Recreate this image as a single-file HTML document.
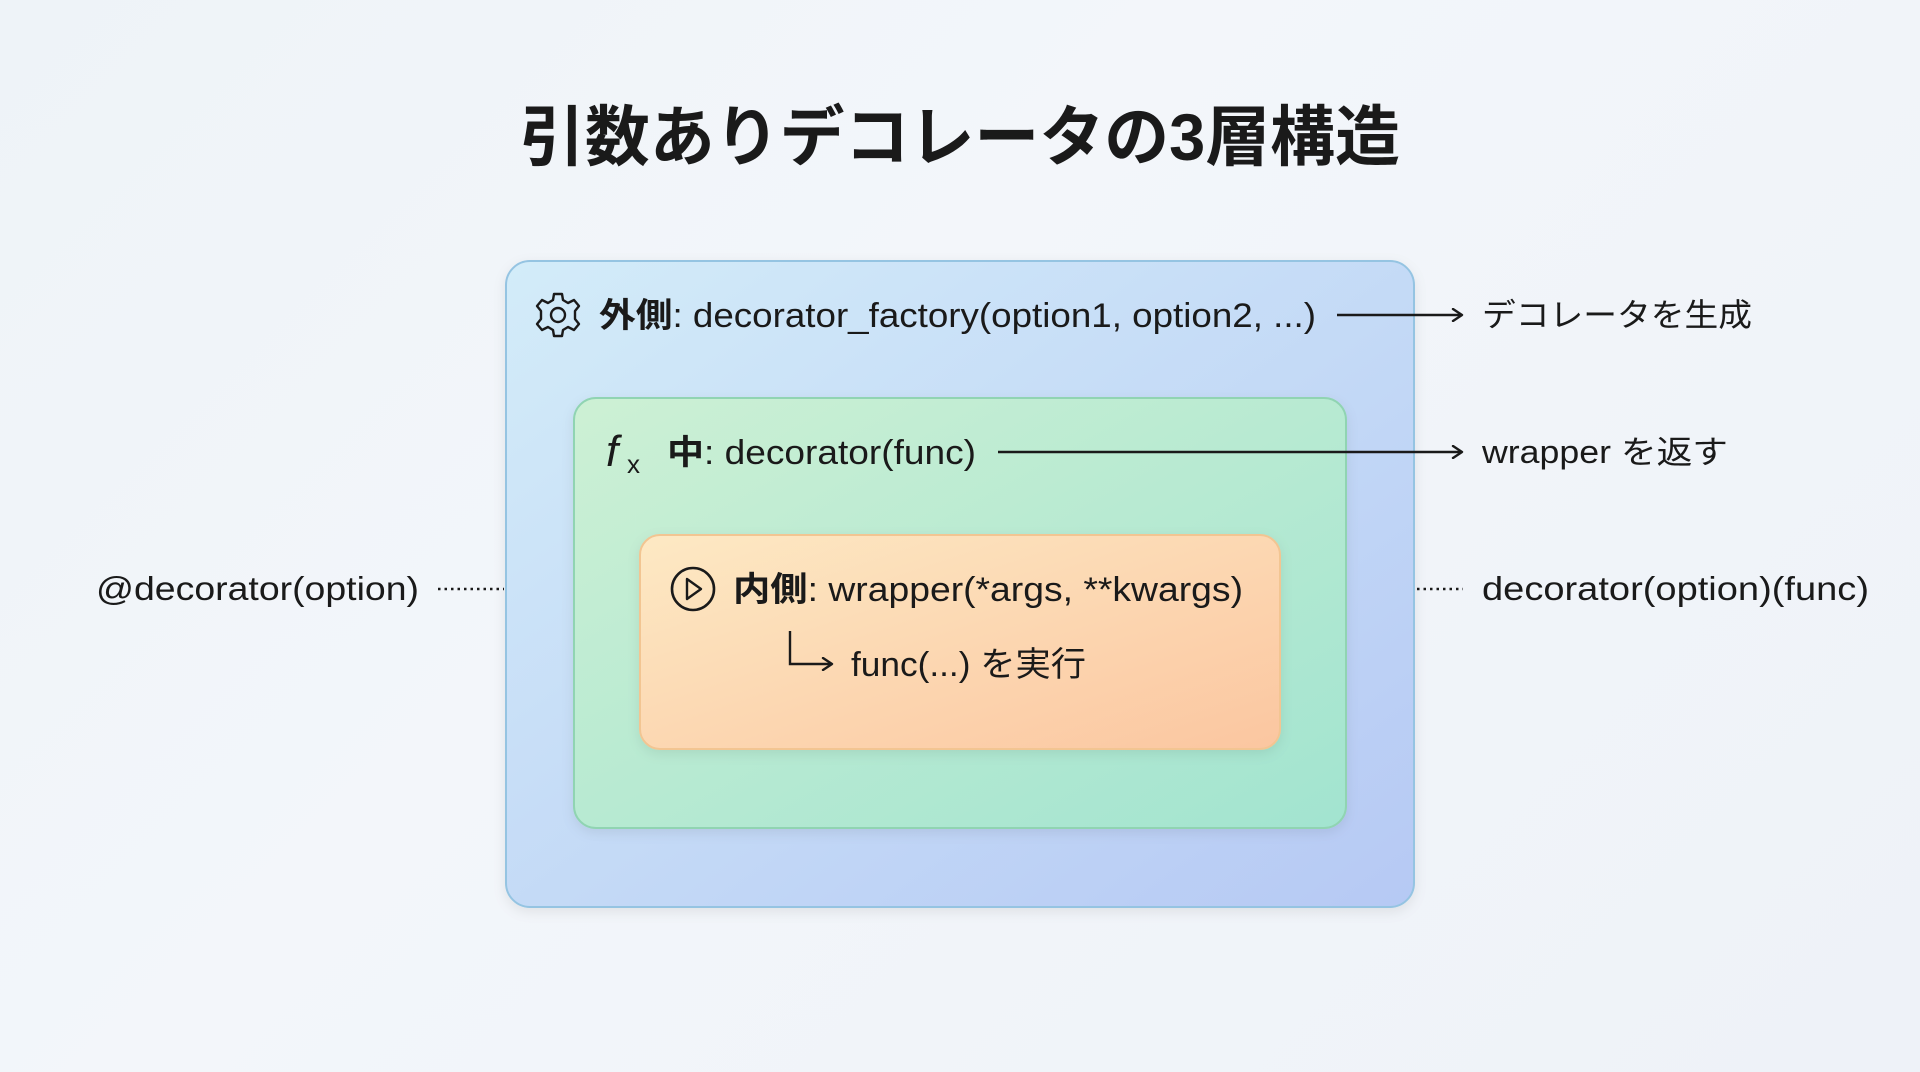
<!DOCTYPE html>
<html><head><meta charset="utf-8"><style>
html,body{margin:0;padding:0;width:1920px;height:1072px;overflow:hidden;}
body{background:linear-gradient(135deg,#eef3f8 0%,#f3f6fa 40%,#eef2f8 100%);}
svg{display:block}
text{font-family:"Liberation Sans","Noto Sans CJK JP",sans-serif;fill:#1a1a1a;}
</style></head><body>
<svg width="1920" height="1072" viewBox="0 0 1920 1072" xmlns="http://www.w3.org/2000/svg">
<defs>
<linearGradient id="gOut" x1="0" y1="0" x2="1" y2="1">
<stop offset="0" stop-color="#d3ecf9"/><stop offset="1" stop-color="#b6c9f4"/></linearGradient>
<linearGradient id="gMid" x1="0" y1="0" x2="1" y2="1">
<stop offset="0" stop-color="#cdf0d4"/><stop offset="1" stop-color="#a2e4d0"/></linearGradient>
<linearGradient id="gIn" x1="0" y1="0" x2="1" y2="1">
<stop offset="0" stop-color="#fde9c4"/><stop offset="1" stop-color="#fbc6a0"/></linearGradient>
<filter id="sh" x="-10%" y="-10%" width="120%" height="130%"><feDropShadow dx="0" dy="4" stdDeviation="6" flood-color="#000" flood-opacity="0.08"/></filter>
<marker id="ah" markerWidth="14" markerHeight="14" refX="12" refY="7" orient="auto" markerUnits="userSpaceOnUse">
<path d="M3,1 L12,7 L3,13" fill="none" stroke="#1a1a1a" stroke-width="2.4" stroke-linecap="round" stroke-linejoin="round"/></marker>
</defs>
<text x="960" y="160" text-anchor="middle" font-size="66" font-weight="bold" textLength="880" lengthAdjust="spacingAndGlyphs">引数ありデコレータの3層構造</text>

<rect x="506" y="261" width="908" height="646" rx="24" fill="url(#gOut)" stroke="#95c4e2" stroke-width="2" filter="url(#sh)"/>
<rect x="574" y="398" width="772" height="430" rx="22" fill="url(#gMid)" stroke="#90d4b2" stroke-width="2" filter="url(#sh)"/>
<rect x="640" y="535" width="640" height="214" rx="20" fill="url(#gIn)" stroke="#f2c592" stroke-width="2" filter="url(#sh)"/>

<!-- gear -->
<g transform="translate(558,315)" fill="none" stroke="#1a1a1a" stroke-width="2.4" stroke-linejoin="round">
<path d="M-4,-21 L4,-21 L5,-15 L10,-12 L16,-15 L21,-9 L17,-4 L17,4 L21,9 L16,15 L10,12 L5,15 L4,21 L-4,21 L-5,15 L-10,12 L-16,15 L-21,9 L-17,4 L-17,-4 L-21,-9 L-16,-15 L-10,-12 L-5,-15 Z"/>
<circle r="7"/></g>
<text x="599" y="327" font-size="34" textLength="717" lengthAdjust="spacingAndGlyphs"><tspan font-weight="bold">外側</tspan>: decorator_factory(option1, option2, ...)</text>
<line x1="1337" y1="315" x2="1462" y2="315" stroke="#1a1a1a" stroke-width="2.4" marker-end="url(#ah)"/>
<text x="1482" y="326" font-size="32" textLength="270" lengthAdjust="spacingAndGlyphs">デコレータを生成</text>

<!-- fx -->
<text x="606" y="466" font-size="44" font-style="italic" font-family="Liberation Serif">f</text>
<text x="627" y="473" font-size="26">x</text>
<text x="667" y="464" font-size="34" textLength="309" lengthAdjust="spacingAndGlyphs"><tspan font-weight="bold">中</tspan>: decorator(func)</text>
<line x1="998" y1="452" x2="1462" y2="452" stroke="#1a1a1a" stroke-width="2.4" marker-end="url(#ah)"/>
<text x="1482" y="463" font-size="32" textLength="246" lengthAdjust="spacingAndGlyphs">wrapper を返す</text>

<!-- play -->
<circle cx="693" cy="589" r="21" fill="none" stroke="#1a1a1a" stroke-width="2.6"/>
<path d="M687,579 L701,589 L687,599 Z" fill="none" stroke="#1a1a1a" stroke-width="2.4" stroke-linejoin="round"/>
<text x="733" y="601" font-size="34" textLength="510" lengthAdjust="spacingAndGlyphs"><tspan font-weight="bold">内側</tspan>: wrapper(*args, **kwargs)</text>
<path d="M790,631 L790,664 L832,664" fill="none" stroke="#1a1a1a" stroke-width="2.4" marker-end="url(#ah)"/>
<text x="851" y="676" font-size="34" textLength="235" lengthAdjust="spacingAndGlyphs">func(...) を実行</text>

<text x="96" y="600" font-size="33" textLength="323" lengthAdjust="spacingAndGlyphs">@decorator(option)</text>
<line x1="438" y1="589" x2="504" y2="589" stroke="#1a1a1a" stroke-width="2.4" stroke-dasharray="2.5 4"/>
<line x1="1417" y1="589" x2="1463" y2="589" stroke="#1a1a1a" stroke-width="2.4" stroke-dasharray="2.5 4"/>
<text x="1482" y="600" font-size="33" textLength="387" lengthAdjust="spacingAndGlyphs">decorator(option)(func)</text>
</svg>
</body></html>
